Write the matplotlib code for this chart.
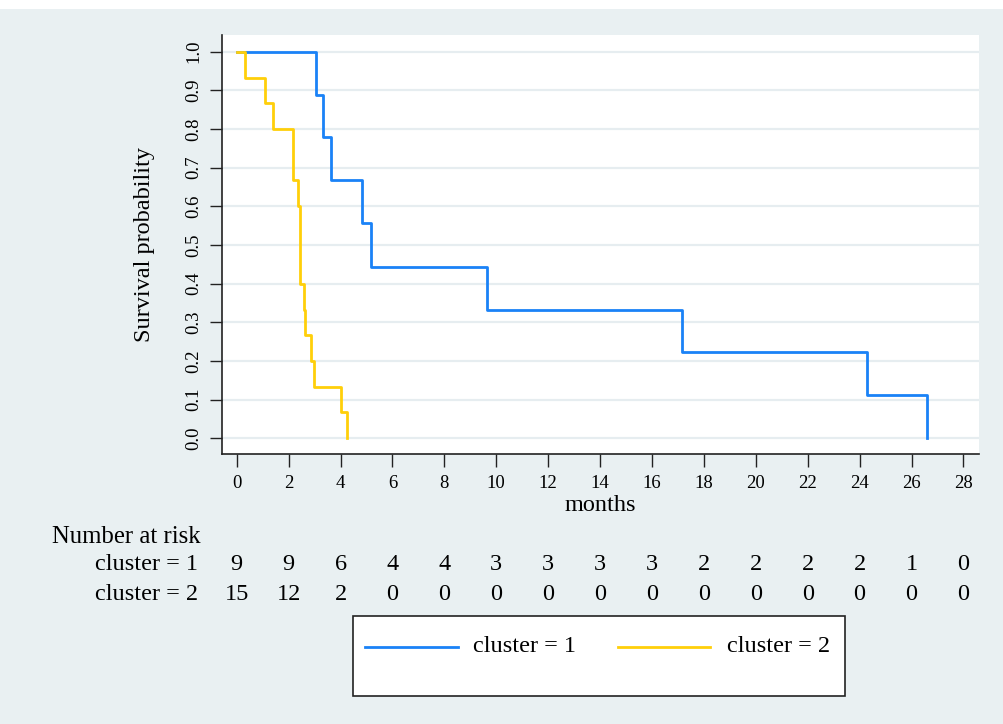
import matplotlib
matplotlib.use("Agg")
import matplotlib.pyplot as plt
from matplotlib.patches import Rectangle
from matplotlib.lines import Line2D
import matplotlib.transforms as mtransforms

# ---- data ----
times1 = [0, 3.07, 3.31, 3.62, 4.82, 5.19, 9.65, 17.17, 24.3, 26.6]
surv1 = [1.0, 0.889, 0.778, 0.667, 0.556, 0.444, 0.333, 0.222, 0.111, 0.0]
times2 = [0, 0.31, 1.08, 1.41, 2.15, 2.35, 2.42, 2.58, 2.62, 2.88, 2.96, 4.0, 4.23]
surv2 = [1.0, 0.933, 0.867, 0.8, 0.667, 0.6, 0.4, 0.333, 0.267, 0.2, 0.133, 0.067, 0.0]
risk_times = list(range(0, 29, 2))
risk1 = [9, 9, 6, 4, 4, 3, 3, 3, 3, 2, 2, 2, 2, 1, 0]
risk2 = [15, 12, 2, 0, 0, 0, 0, 0, 0, 0, 0, 0, 0, 0, 0]
yticks = [0.0, 0.1, 0.2, 0.3, 0.4, 0.5, 0.6, 0.7, 0.8, 0.9, 1.0]
labels = ["cluster = 1", "cluster = 2"]

BLUE = "#1a82f7"
YELLOW = "#ffcf0a"
BG = "#e9f0f2"
GRID = "#e6edf0"

plt.rcParams['font.family'] = ['Liberation Serif', 'DejaVu Serif']

W, H = 1004, 724
fig = plt.figure(figsize=(W / 100, H / 100), dpi=100, facecolor=BG)
# white strip at the very top
fig.patches.append(Rectangle((0, 1 - 9 / H), 1, 9 / H, transform=fig.transFigure,
                             facecolor="white", edgecolor="none", zorder=0))

ax = fig.add_axes([221.7 / W, 1 - 454 / H, (979 - 221.7) / W, (454 - 35) / H])
ax.set_facecolor("white")
ax.set_xlim(-0.58, 28.6)
ax.set_ylim(-0.0406, 1.043)

for y in yticks:
    ax.axhline(y, color=GRID, lw=1.6, zorder=1)

ax.step(times1, surv1, where="post", color=BLUE, lw=2.0, zorder=3)
ax.step(times2, surv2, where="post", color=YELLOW, lw=2.0, zorder=4)

ax.set_xticks(risk_times)
ax.set_xticklabels([str(t) for t in risk_times], fontsize=13.5)
ax.set_yticks(yticks)
ax.set_yticklabels([f"{v:.1f}" for v in yticks], fontsize=13.5, rotation=90, va="center")
ax.tick_params(axis="both", direction="out", length=9, width=1.0, color="#222222")
ax.tick_params(axis="x", pad=6)
ax.tick_params(axis="y", pad=5)
for s in ["top", "right"]:
    ax.spines[s].set_visible(False)
for s in ["left", "bottom"]:
    ax.spines[s].set_color("#222222")
    ax.spines[s].set_linewidth(1.2)

ax.set_xlabel("months", fontsize=17.5, labelpad=2)
ax.set_ylabel("Survival probability", fontsize=17.5, labelpad=22)

# ---- number at risk table ----
trans = mtransforms.blended_transform_factory(ax.transData, fig.transFigure)
fig.text(52 / W, 1 - 537 / H, "Number at risk", fontsize=17.8, ha="left", va="center")
for row, (lab, vals) in enumerate(zip(labels, [risk1, risk2])):
    yy = 1 - (565 + row * 29) / H
    fig.text(198 / W, yy, lab, fontsize=17.5, ha="right", va="center")
    for t, v in zip(risk_times, vals):
        ax.text(t, yy, str(v), transform=trans, fontsize=17.5, ha="center", va="center",
                clip_on=False)

# ---- legend box ----
fig.patches.append(Rectangle((353 / W, 1 - 696 / H), (845 - 353) / W, (696 - 616) / H,
                             transform=fig.transFigure, facecolor="white",
                             edgecolor="#222222", lw=1.2, zorder=2))
ly = 1 - 647 / H
for (x0, x1, tx), col, lab in zip([(365, 458, 473), (618, 710, 727)], [BLUE, YELLOW], labels):
    fig.lines.append(Line2D([x0 / W, x1 / W], [ly, ly], transform=fig.transFigure,
                            color=col, lw=2.0, zorder=3))
    fig.text(tx / W, ly, lab, fontsize=17.5, ha="left", va="center", zorder=3)

fig.savefig("out.png", dpi=100, facecolor=BG)
